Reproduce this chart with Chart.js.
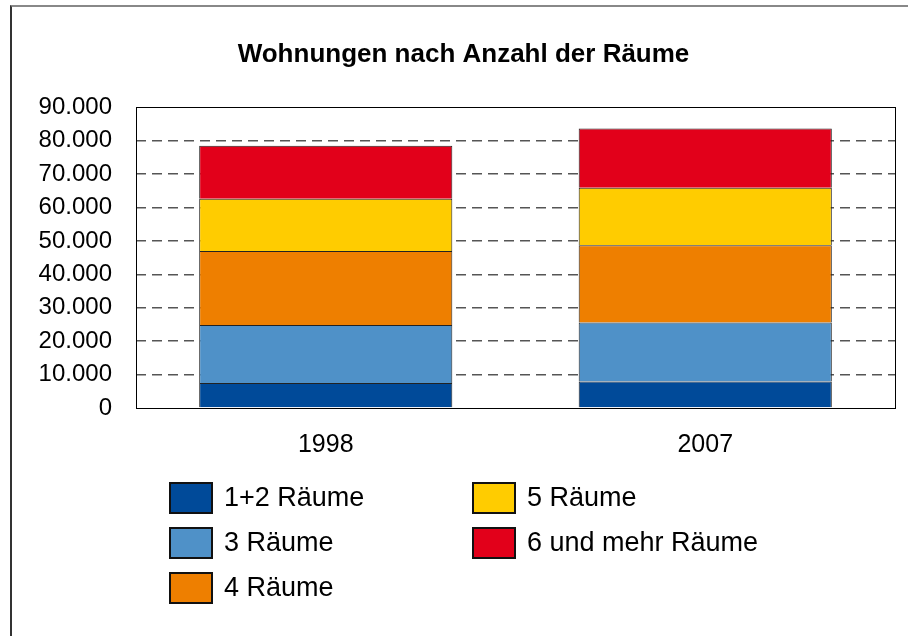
<!DOCTYPE html>
<html lang="de">
<head>
  <meta charset="UTF-8">
  <title>Wohnungen nach Anzahl der Räume</title>
  <script src="https://cdn.jsdelivr.net/npm/chart.js"></script>
  <style>
    html, body { margin: 0; padding: 0; background: #fff; }
    #wrap { position: relative; width: 908px; height: 636px; overflow: hidden; }
    #frame { position: absolute; left: 10px; top: 5px; width: 898px; height: 631px;
             border-top: 2px solid #888; border-left: 2px solid #333; box-sizing: border-box; }
    canvas { position: absolute; left: 0; top: 0; }
  </style>
</head>
<body>
  <div id="wrap">
    <div id="frame"></div>
    <canvas id="chart" width="908" height="636"></canvas>
  </div>

  <script>
    const years = ['1998', '2007'];
    const seriesNames = ['1+2 Räume', '3 Räume', '4 Räume', '5 Räume', '6 und mehr Räume'];
    const seriesColors = ['#004a99', '#4f91c8', '#ee7f00', '#ffcc00', '#e2001a'];
    const raeume12 = [7500, 7900];
    const raeume3 = [17300, 17700];
    const raeume4 = [22200, 23100];
    const raeume5 = [15600, 17200];
    const raeume6plus = [15900, 17700];
    const yTicks = [0, 10000, 20000, 30000, 40000, 50000, 60000, 70000, 80000, 90000];

    const FONT = "'Liberation Sans', Arial, sans-serif";
    const seriesValues = [raeume12, raeume3, raeume4, raeume5, raeume6plus];

    // frame around the plot area
    const plotBorder = {
      id: 'plotBorder',
      afterDatasetsDraw(chart) {
        const a = chart.chartArea, ctx = chart.ctx;
        ctx.save();
        ctx.strokeStyle = '#000';
        ctx.lineWidth = 1;
        ctx.strokeRect(Math.round(a.left) + 0.5, Math.round(a.top) + 0.5,
                       Math.round(a.right - a.left), Math.round(a.bottom - a.top));
        ctx.restore();
      }
    };

    // two-column legend, filled column by column
    const boxLegend = {
      id: 'boxLegend',
      afterDraw(chart) {
        const ctx = chart.ctx;
        const colX = [170, 473];
        const rowY = [498, 543, 588];
        ctx.save();
        ctx.font = '27px ' + FONT;
        ctx.textBaseline = 'middle';
        chart.data.datasets.forEach((ds, i) => {
          const col = Math.floor(i / 3), row = i % 3;
          const x = colX[col], y = rowY[row];
          ctx.fillStyle = ds.backgroundColor;
          ctx.fillRect(x, y - 15, 42, 30);
          ctx.strokeStyle = '#111';
          ctx.lineWidth = 2;
          ctx.strokeRect(x, y - 15, 42, 30);
          ctx.fillStyle = '#000';
          ctx.fillText(ds.label, x + 54, y + 1);
        });
        ctx.restore();
      }
    };

    new Chart(document.getElementById('chart'), {
      type: 'bar',
      data: {
        labels: years,
        datasets: seriesNames.map((name, i) => ({
          label: name,
          data: seriesValues[i],
          backgroundColor: seriesColors[i],
          borderColor: '#222',
          borderWidth: 1,
          categoryPercentage: 1,
          barPercentage: 0.667
        }))
      },
      options: {
        responsive: false,
        animation: false,
        devicePixelRatio: 1,
        layout: { padding: { left: 32, right: 13, top: 0, bottom: 168 } },
        plugins: {
          legend: { display: false },
          tooltip: { enabled: false },
          title: {
            display: true,
            text: 'Wohnungen nach Anzahl der Räume',
            color: '#000',
            font: { family: FONT, size: 26, weight: 'bold' },
            padding: { top: 39, bottom: 37 }
          }
        },
        scales: {
          x: {
            stacked: true,
            grid: { display: false },
            border: { display: false },
            ticks: { color: '#000', font: { family: FONT, size: 25 }, padding: 14 },
            afterFit(scale) { scale.height = 60; }
          },
          y: {
            stacked: true,
            min: 0,
            max: 90000,
            afterBuildTicks(scale) { scale.ticks = yTicks.map(v => ({ value: v })); },
            afterFit(scale) { scale.width = 104; },
            border: { display: false, dash: [10, 6] },
            grid: {
              // first and last lines sit on the plot frame
              color: c => (c.tick && (c.tick.value === 0 || c.tick.value === 90000)) ? 'rgba(0,0,0,0)' : '#555',
              lineWidth: 1.5,
              drawTicks: false
            },
            ticks: {
              color: '#000',
              font: { family: FONT, size: 24 },
              padding: 24,
              callback: v => v.toLocaleString('de-DE')
            }
          }
        }
      },
      plugins: [plotBorder, boxLegend]
    });
  </script>
</body>
</html>
